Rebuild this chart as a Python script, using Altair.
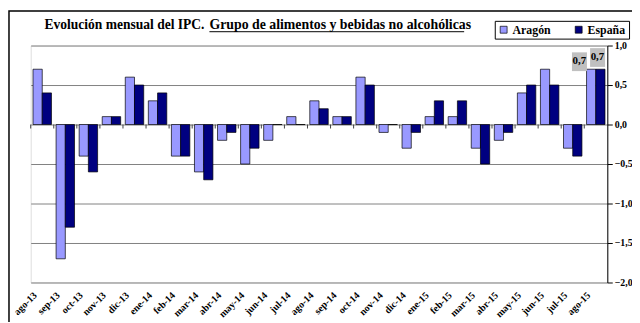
import altair as alt
import pandas as pd

months = ["ago-13", "sep-13", "oct-13", "nov-13", "dic-13", "ene-14", "feb-14", "mar-14",
          "abr-14", "may-14", "jun-14", "jul-14", "ago-14", "sep-14", "oct-14", "nov-14",
          "dic-14", "ene-15", "feb-15", "mar-15", "abr-15", "may-15", "jun-15", "jul-15", "ago-15"]
aragon = [0.7, -1.7, -0.4, 0.1, 0.6, 0.3, -0.4, -0.6, -0.2, -0.5, -0.2, 0.1, 0.3, 0.1, 0.6,
          -0.1, -0.3, 0.1, 0.1, -0.3, -0.2, 0.4, 0.7, -0.3, 0.7]
espana = [0.4, -1.3, -0.6, 0.1, 0.5, 0.4, -0.4, -0.7, -0.1, -0.3, 0.0, 0.0, 0.2, 0.1, 0.5,
          0.0, -0.1, 0.3, 0.3, -0.5, -0.1, 0.5, 0.5, -0.4, 0.7]
series = ["Aragón", "España"]
colors = ["#9999FF", "#000080"]
y_ticks = [-2.0, -1.5, -1.0, -0.5, 0.0, 0.5, 1.0]
title_a = "Evolución mensual del IPC."
title_b = "Grupo de alimentos y bebidas no alcohólicas"

rows = []
for i, m in enumerate(months):
    rows.append({"mes": m, "serie": series[0], "valor": aragon[i]})
    rows.append({"mes": m, "serie": series[1], "valor": espana[i]})
df = pd.DataFrame(rows)
mdf = pd.DataFrame({"mes": months, "valor": [0.0] * len(months)})

FONT = "Liberation Serif"
W, H = 584, 240

yscale = alt.Scale(domain=[-2, 1], nice=False, zero=False)
yaxis = alt.Axis(orient="right", values=y_ticks, title=None, grid=True, gridColor="#808080",
                 gridWidth=1, domainColor="#000000", tickColor="#000000", tickSize=5,
                 labelFont=FONT, labelFontWeight="bold", labelFontSize=10, labelColor="#000000",
                 labelPadding=2,
                 labelExpr="replace(format(datum.value, '.1f'), '.', ',')")
xaxis = alt.Axis(orient="bottom", title=None, domain=False, ticks=False, grid=False,
                 labelAngle=-45, labelAlign="right", labelBaseline="middle",
                 labelFont=FONT, labelFontWeight="bold", labelFontSize=10,
                 labelColor="#000000", labelPadding=11, labelOffset=-7)
Y = alt.Y("valor:Q", scale=yscale, axis=yaxis)
xscale = alt.Scale(paddingInner=0, paddingOuter=0)
X = alt.X("mes:N", sort=months, scale=xscale, axis=xaxis)
XO = alt.XOffset("serie:N", sort=series,
                 scale=alt.Scale(domain=series, paddingInner=0, paddingOuter=0.25))

base = alt.Chart(df)

bars = base.mark_bar(stroke="#000000", strokeWidth=0.7).encode(
    x=X,
    xOffset=XO,
    y=Y,
    color=alt.Color("serie:N", sort=series, scale=alt.Scale(domain=series, range=colors),
                    legend=alt.Legend(title=None, orient="none", legendX=470, legendY=-25,
                                      direction="horizontal", fillColor="#FFFFFF",
                                      strokeColor="#000000", padding=3, symbolType="square",
                                      symbolSize=49, symbolStrokeColor="#000000",
                                      symbolStrokeWidth=0.7, labelFont=FONT,
                                      labelFontWeight="bold", labelFontSize=12,
                                      labelColor="#000000", columnPadding=22, labelOffset=3)),
)

# category-boundary tick marks hanging below the zero line
zero_ticks = alt.Chart(mdf).mark_tick(orient="vertical", size=4, thickness=1, color="#404040",
                                      yOffset=2, opacity=1).encode(
    x=alt.X("mes:N", sort=months, scale=xscale, bandPosition=0, axis=xaxis),
    y=Y)

last = base.transform_filter(alt.datum.mes == months[-1])


def box(serie, path):
    return last.transform_filter(alt.datum.serie == serie).mark_point(
        shape=path, size=361, filled=True, fill="#C0C0C0", opacity=1, strokeWidth=0).encode(
        x=X, xOffset=XO, y=Y)


def lab(serie, dx, dy):
    return last.transform_filter(alt.datum.serie == serie).transform_calculate(
        t="replace(format(datum.valor, '.1f'), '.', ',')").mark_text(
        font=FONT, fontWeight="bold", fontSize=11, color="#000000", dx=dx, dy=dy,
        baseline="middle").encode(
        x=X, xOffset=XO, y=Y, text="t:N")


boxA = box("Aragón", "M-2.05,-1.8H-0.45V0.2H-2.05Z")
boxE = box("España", "M-1.1,-2.25H0.5V-0.25H-1.1Z")
labA = lab("Aragón", -12, -8)
labE = lab("España", -3, -12)

tdf = pd.DataFrame({"a": [title_a], "b": [title_b]})
t1 = alt.Chart(tdf).mark_text(font=FONT, fontWeight="bold", fontSize=13.7, align="right",
                              baseline="alphabetic", color="#000000").encode(
    x=alt.value(176), y=alt.value(-17), text="a:N")
t2 = alt.Chart(tdf).mark_text(font=FONT, fontWeight="bold", fontSize=14, align="left",
                              baseline="alphabetic", color="#000000").encode(
    x=alt.value(181), y=alt.value(-17), text="b:N")
uline = alt.Chart(tdf).mark_rule(color="#000000", strokeWidth=1).encode(
    x=alt.value(181), x2=alt.value(439), y=alt.value(-14))
border = alt.Chart(tdf).mark_rect(fill=None, stroke="#000000", strokeWidth=1.5).encode(
    x=alt.value(-22), x2=alt.value(700), y=alt.value(-35), y2=alt.value(400))

chart = alt.layer(border, bars, zero_ticks, boxA, boxE, labA, labE, t1, t2, uline).properties(
    width=W, height=H,
    autosize=alt.AutoSizeParams(type="none"),
    padding={"left": 23, "top": 36, "right": 25, "bottom": 38},
).configure_view(strokeWidth=0, stroke="transparent").configure(background="#FFFFFF")

chart.save("out.html", embed_options={"renderer": "svg", "actions": False})
